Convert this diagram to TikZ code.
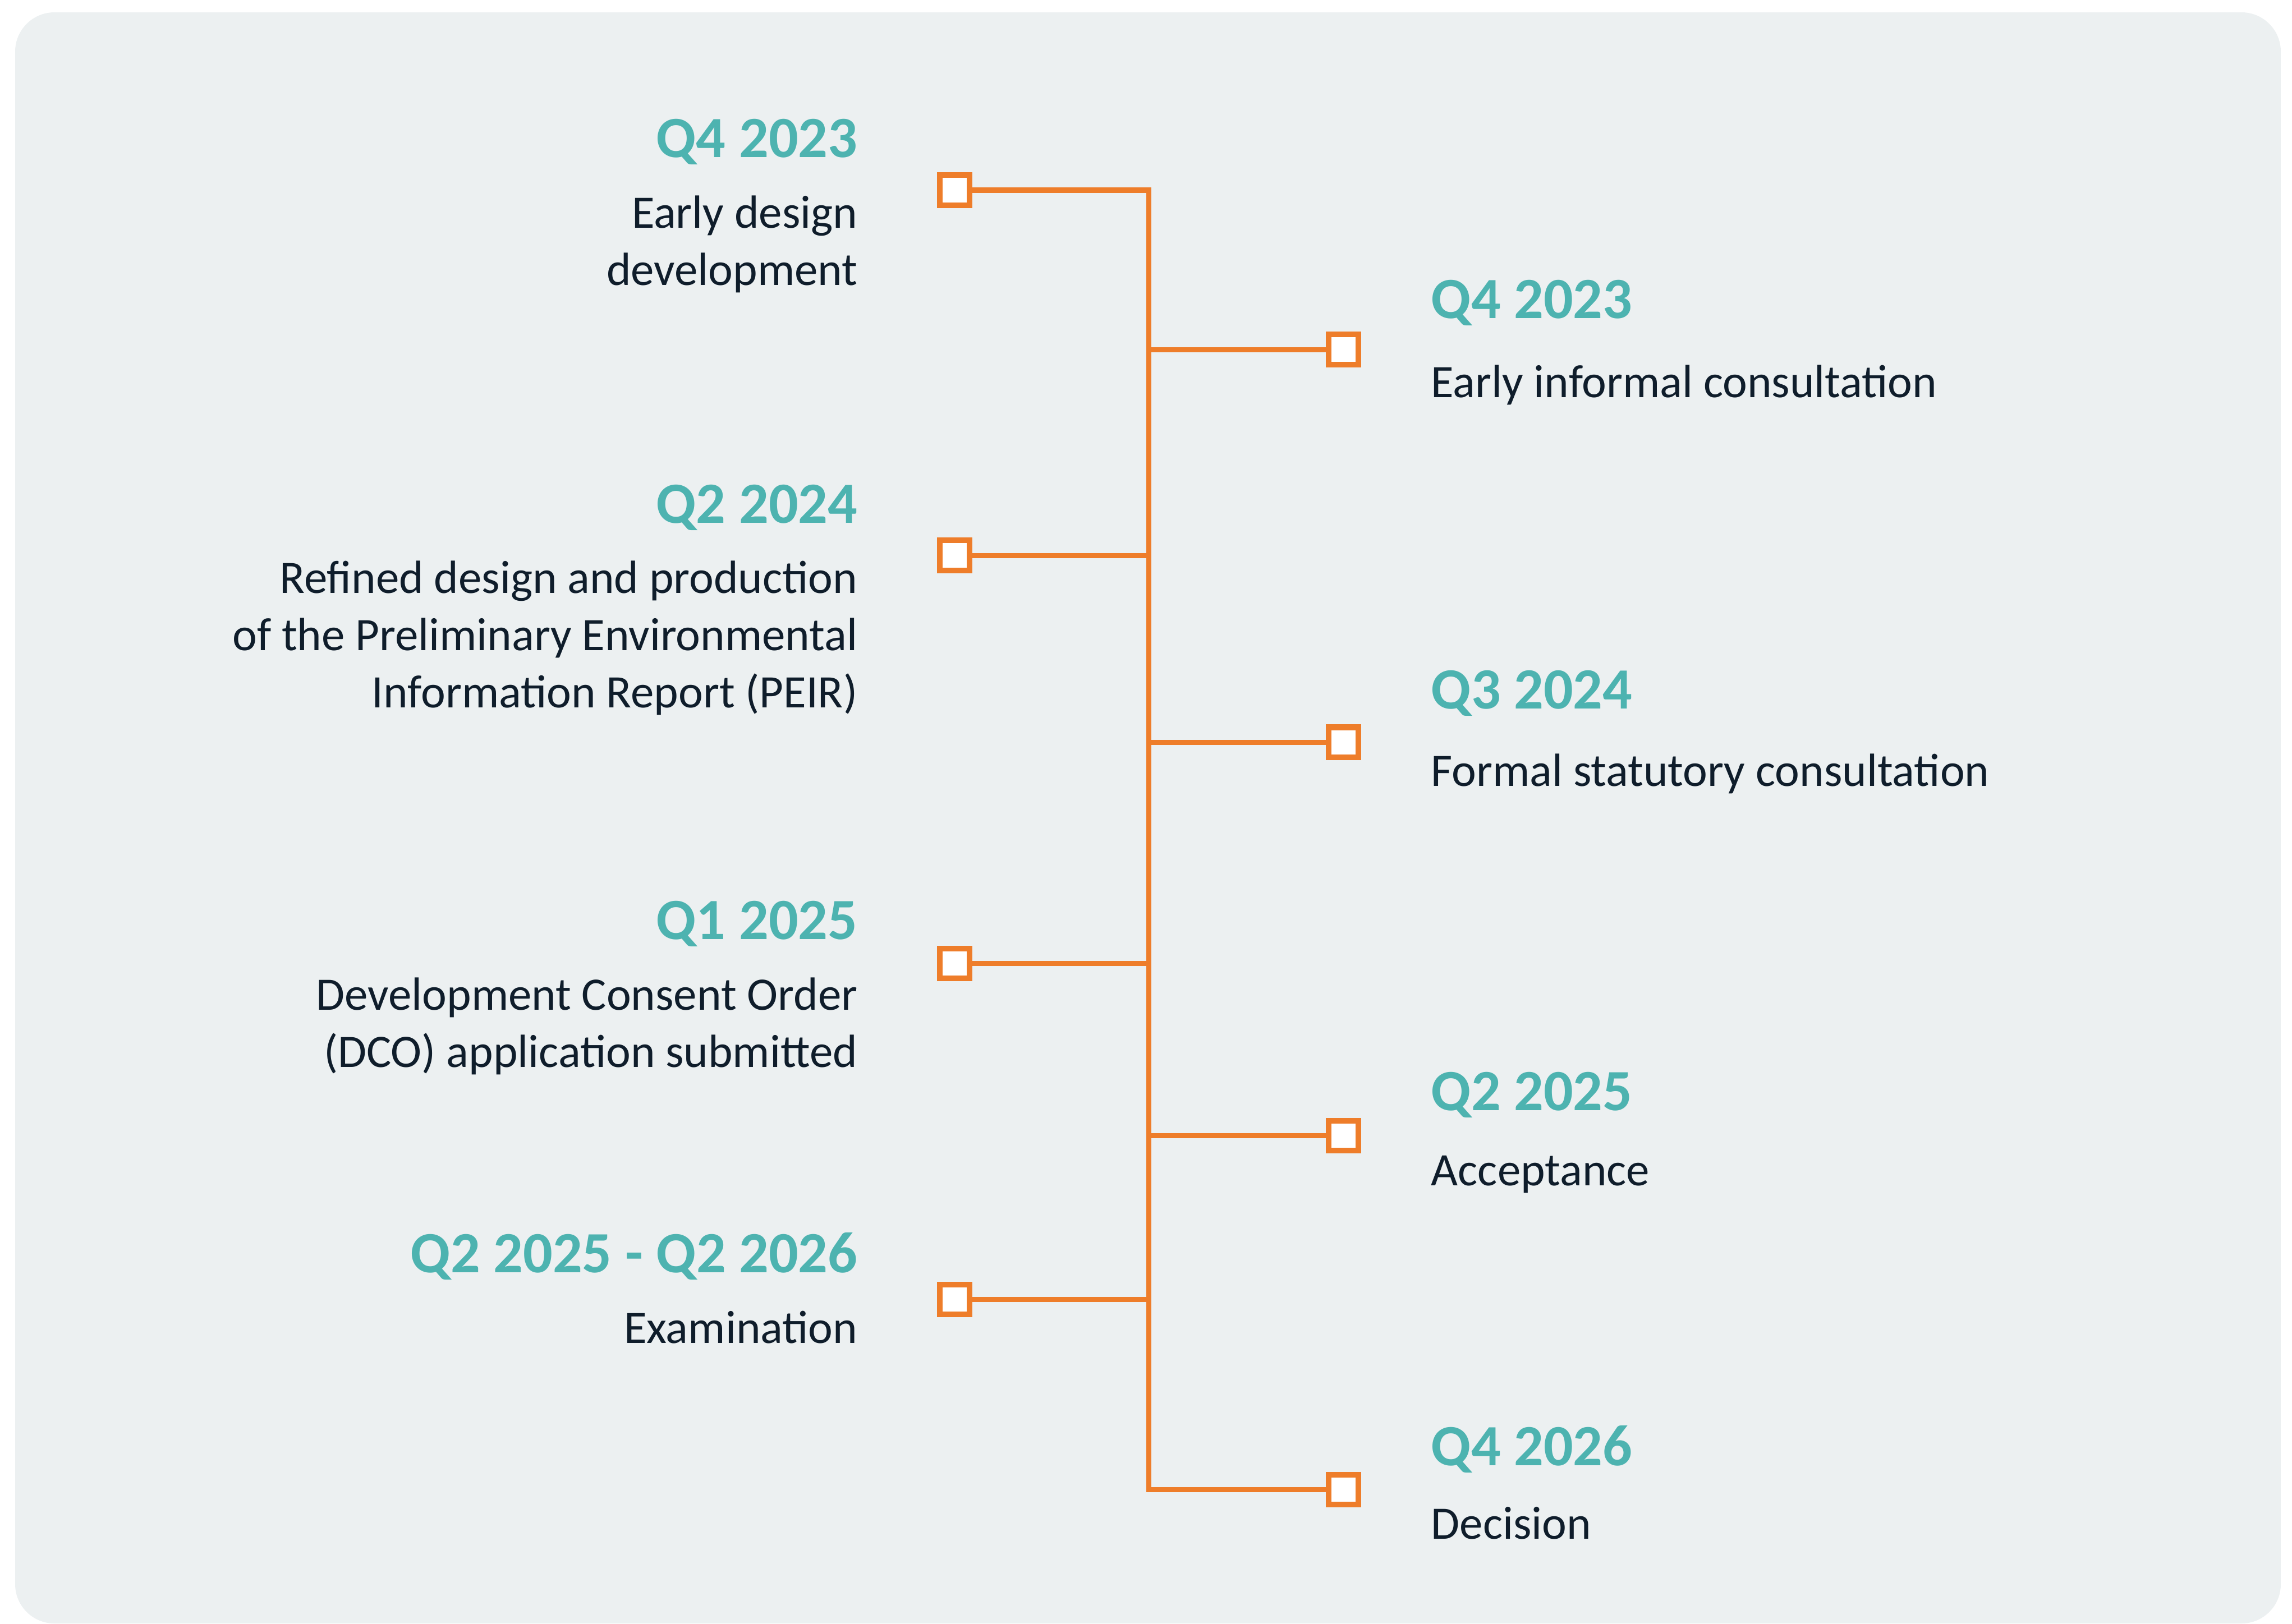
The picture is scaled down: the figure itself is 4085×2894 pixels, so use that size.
\documentclass[tikz,border=0pt]{standalone}
\usepackage{fontspec}
\setmainfont{Carlito}
\usetikzlibrary{positioning}

\definecolor{panel}{HTML}{ECF0F1}
\definecolor{milestone}{HTML}{EE7D2A}
\definecolor{quarter}{HTML}{4DB3B0}
\definecolor{ink}{HTML}{0F1D2B}

\tikzset{
  quarterlabel/.style={font=\bfseries\fontsize{29.6}{35}\selectfont, text=quarter, inner sep=0pt},
  stagelabel/.style={font=\fontsize{23.6}{29}\selectfont, text=ink, inner sep=0pt},
  marker/.style={draw=milestone, fill=white, line width=0.1cm, minimum size=0.53cm, inner sep=0pt},
  link/.style={draw=milestone, line width=0.09cm, line join=miter}
}

\begin{document}
\begin{tikzpicture}[x=0.01cm,y=-0.01cm]
  \useasboundingbox (0,0) rectangle (4085,2894);
  \fill[panel, rounded corners=0.7cm] (27,22) rectangle (4065,2894);

  % spine
  \coordinate (spine) at (2047,0);

  % markers, left and right of the spine
  \node[marker] (l1) at (1701,339) {};
  \node[marker] (l2) at (1701,990) {};
  \node[marker] (l3) at (1701,1717) {};
  \node[marker] (l4) at (1701,2316) {};
  \node[marker] (r1) at (2394,623) {};
  \node[marker] (r2) at (2394,1323) {};
  \node[marker] (r3) at (2394,2024) {};
  \node[marker] (r4) at (2394,2655) {};

  \draw[link] (l1.east) -- (l1.east -| spine) -- (r4.west -| spine) -- (r4.west);
  \draw[link] (l2.east) -- (l2.east -| spine);
  \draw[link] (l3.east) -- (l3.east -| spine);
  \draw[link] (l4.east) -- (l4.east -| spine);
  \draw[link] (r1.west -| spine) -- (r1.west);
  \draw[link] (r2.west -| spine) -- (r2.west);
  \draw[link] (r3.west -| spine) -- (r3.west);

  % left side texts (base = last line)
  \node[quarterlabel, anchor=base east] (q1) at (1529,280) {Q4 2023};
  \node[stagelabel, anchor=base east, align=right] (s1) at (1529,508) {Early design\\development};
  \node[quarterlabel, anchor=base east] (q2) at (1529,932) {Q2 2024};
  \node[stagelabel, anchor=base east, align=right] (s2) at (1529,1261) {Refined design and production\\of the Preliminary Environmental\\Information Report (PEIR)};
  \node[quarterlabel, anchor=base east] (q3) at (1529,1674) {Q1 2025};
  \node[stagelabel, anchor=base east, align=right] (s3) at (1529,1902) {Development Consent Order\\(DCO) application submitted};
  \node[quarterlabel, anchor=base east] (q4) at (1529,2268) {Q2 2025 - Q2 2026};
  \node[stagelabel, anchor=base east] (s4) at (1529,2394) {Examination};

  % right side texts
  \node[quarterlabel, anchor=base west] (q5) at (2550,567) {Q4 2023};
  \node[stagelabel, anchor=base west] (s5) at (2550,708) {Early informal consultation};
  \node[quarterlabel, anchor=base west] (q6) at (2550,1263) {Q3 2024};
  \node[stagelabel, anchor=base west] (s6) at (2550,1401) {Formal statutory consultation};
  \node[quarterlabel, anchor=base west] (q7) at (2550,1979) {Q2 2025};
  \node[stagelabel, anchor=base west] (s7) at (2550,2113) {Acceptance};
  \node[quarterlabel, anchor=base west] (q8) at (2550,2612) {Q4 2026};
  \node[stagelabel, anchor=base west] (s8) at (2550,2743) {Decision};
\end{tikzpicture}
\end{document}
